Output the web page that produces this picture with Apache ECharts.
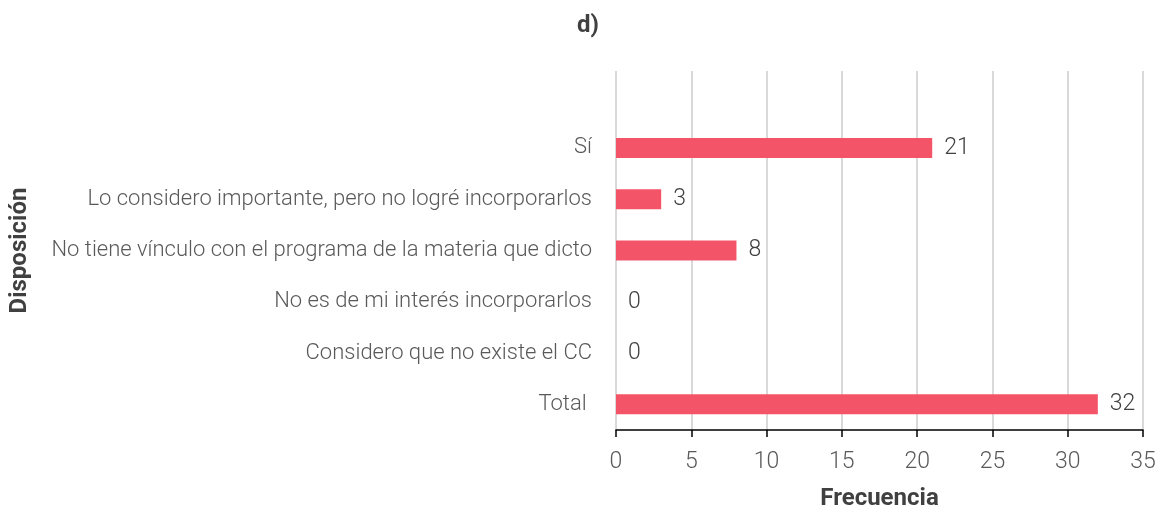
<!DOCTYPE html>
<html>
<head>
<meta charset="utf-8">
<script src="https://cdn.jsdelivr.net/npm/echarts@6/dist/echarts.min.js"></script>
<style>
  html, body { margin: 0; padding: 0; background: #fff; }
  #chart { width: 1159px; height: 511px; }
</style>
</head>
<body>
<div id="chart"></div>
<script>
// categorias de arriba hacia abajo (la primera queda vacia, como en el original)
var categorias = [
    '',
    'Sí',
    'Lo considero importante, pero no logré incorporarlos',
    'No tiene vínculo con el programa de la materia que dicto',
    'No es de mi interés incorporarlos',
    'Considero que no existe el CC',
    'Total '
];
var frecuencias = [null, 21, 3, 8, 0, 0, 32];
var ticksX = [0, 5, 10, 15, 20, 25, 30, 35];

var fuente = 'Roboto';
var myChart = echarts.init(document.getElementById('chart'));

var option = {
    backgroundColor: '#fff',
    animation: false,
    title: {
        text: 'd)',
        left: 583,
        top: 9,
        textAlign: 'center',
        textStyle: { fontFamily: fuente, fontSize: 24, fontWeight: 'bold', color: '#404040' }
    },
    grid: { left: 616, right: 16, top: 71, bottom: 81, containLabel: false, outerBoundsMode: 'none' },
    xAxis: {
        type: 'value',
        min: ticksX[0],
        max: ticksX[ticksX.length - 1],
        interval: 5,
        name: 'Frecuencia',
        nameLocation: 'middle',
        nameGap: 57,
        nameTextStyle: { fontFamily: fuente, fontSize: 24, fontWeight: 'bold', color: '#404040' },
        axisLine: { show: true, lineStyle: { color: '#000', width: 1.5 } },
        axisTick: { show: true, length: 7, lineStyle: { color: '#000', width: 1.5 } },
        axisLabel: { fontFamily: fuente, fontWeight: 300, fontSize: 23, color: '#595959', margin: 21 },
        splitLine: { show: true, lineStyle: { color: '#d9d9d9', width: 2 } }
    },
    yAxis: {
        type: 'category',
        inverse: true,
        data: categorias,
        name: 'Disposición',
        nameLocation: 'middle',
        nameGap: 584,
        nameTextStyle: { fontFamily: fuente, fontSize: 24, fontWeight: 'bold', color: '#404040' },
        axisLine: { show: false },
        axisTick: { show: false },
        axisLabel: { fontFamily: fuente, fontWeight: 300, fontSize: 22, color: '#595959', margin: 24 }
    },
    series: [{
        type: 'bar',
        data: frecuencias,
        barWidth: 20,
        itemStyle: { color: '#f45468' },
        label: {
            show: true,
            position: 'right',
            distance: 12,
            fontFamily: fuente,
            fontWeight: 300,
            fontSize: 23,
            color: '#404040'
        }
    }]
};
myChart.setOption(option);
</script>
</body>
</html>
